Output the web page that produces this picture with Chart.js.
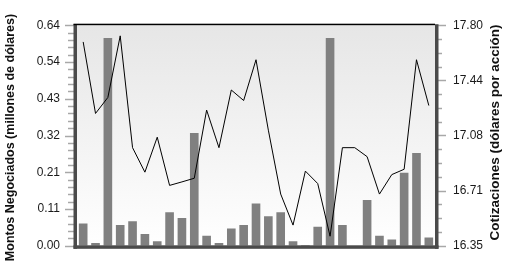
<!DOCTYPE html>
<html><head><meta charset="utf-8">
<script src="https://cdn.jsdelivr.net/npm/chart.js@4"></script>
<style>html,body{margin:0;padding:0;background:#fff;overflow:hidden}#wrap{width:514px;height:271px}</style>
</head><body><div id="wrap"><canvas id="c" width="514" height="271"></canvas></div>
<script>
const categories = ['1','2','3','4','5','6','7','8','9','10','11','12','13','14','15','16','17','18','19','20','21','22','23','24','25','26','27','28','29'];
const montos = [0.065,0.008,0.603,0.060,0.071,0.034,0.013,0.097,0.081,0.327,0.029,0.008,0.050,0.060,0.123,0.086,0.097,0.013,0.002,0.055,0.603,0.060,0.000,0.133,0.029,0.018,0.212,0.269,0.024];
const cotizaciones = [17.69,17.22,17.325,17.73,16.995,16.834,17.064,16.747,16.77,16.794,17.242,16.995,17.374,17.305,17.573,17.11,16.69,16.486,16.841,16.759,16.413,16.995,16.995,16.936,16.69,16.818,16.853,17.573,17.272];
const leftTickValues = [0, 0.10667, 0.21333, 0.32, 0.42667, 0.53333, 0.64];
const leftTickLabels = ['0.00','0.11','0.21','0.32','0.43','0.54','0.64'];
const rightTickValues = [16.35, 16.7125, 17.075, 17.4375, 17.80];
const rightTickLabels = ['16.35','16.71','17.08','17.44','17.80'];
const leftTitle = 'Montos Negociados (millones de dólares)';
const rightTitle = 'Cotizaciones (dólares por acción)';

const FONT = '"Liberation Sans", Arial, sans-serif';

const framePlugin = {
  id: 'frame',
  beforeDatasetsDraw(chart) {
    const {ctx, chartArea: a} = chart;
    ctx.save();
    const g = ctx.createLinearGradient(0, a.top, 0, a.bottom);
    g.addColorStop(0, '#e6e6e6');
    g.addColorStop(1, '#ffffff');
    ctx.fillStyle = g;
    ctx.fillRect(a.left, a.top, a.right - a.left, a.bottom - a.top);
    ctx.restore();
  },
  afterDraw(chart) {
    const {ctx, chartArea: a} = chart;
    const yL = chart.scales.y, yR = chart.scales.y1;
    ctx.save();
    ctx.strokeStyle = '#a8a8a8';
    ctx.lineWidth = 1.5;
    const nL = 30, nR = 16;
    for (let i = 0; i <= nL; i++) {
      const v = yL.min + (yL.max - yL.min) * i / nL;
      const py = Math.round(yL.getPixelForValue(v)) + 0.5;
      const major = i % 5 === 0;
      ctx.beginPath();
      ctx.moveTo(major ? a.left - 12 : a.left - 9, py);
      ctx.lineTo(a.left - 3, py);
      ctx.stroke();
    }
    for (let i = 0; i <= nR; i++) {
      const v = yR.min + (yR.max - yR.min) * i / nR;
      const py = Math.round(yR.getPixelForValue(v)) + 0.5;
      const major = i % 4 === 0;
      ctx.beginPath();
      ctx.moveTo(a.right + 3, py);
      ctx.lineTo(major ? a.right + 11 : a.right + 7, py);
      ctx.stroke();
    }
    ctx.fillStyle = '#4a4a4a';
    ctx.fillRect(a.left - 3.5, a.top - 1, 3.5, a.bottom - a.top + 4);
    ctx.fillRect(a.right, a.top - 1, 3.5, a.bottom - a.top + 4);
    ctx.fillRect(a.left - 3.5, a.bottom - 0.5, a.right - a.left + 7, 3.5);
    ctx.fillStyle = '#000';
    ctx.fillRect(a.left - 3.5, a.top - 1.5, a.right - a.left + 3.5, 1.5);
    ctx.fillStyle = '#111';
    ctx.textAlign = 'center';
    ctx.textBaseline = 'middle';
    const cy = (a.top + a.bottom) / 2;
    ctx.save();
    ctx.font = 'bold 12.5px ' + FONT;
    ctx.translate(11, cy + 2);
    ctx.rotate(-Math.PI / 2);
    ctx.fillText(leftTitle, 0, 0);
    ctx.restore();
    ctx.save();
    ctx.font = 'bold 13.5px ' + FONT;
    ctx.translate(495, cy - 3);
    ctx.rotate(-Math.PI / 2);
    ctx.fillText(rightTitle, 0, 0);
    ctx.restore();
    ctx.restore();
  }
};

new Chart(document.getElementById('c'), {
  data: {
    labels: categories,
    datasets: [
      {type: 'line', data: cotizaciones, yAxisID: 'y1', borderColor: '#000', borderWidth: 1, pointRadius: 0, tension: 0, fill: false, order: 0},
      {type: 'bar', data: montos, yAxisID: 'y', backgroundColor: '#808080', barPercentage: 0.7, categoryPercentage: 1, order: 1}
    ]
  },
  options: {
    responsive: false, animation: false, devicePixelRatio: 1,
    layout: {padding: {top: 14, bottom: 12, left: 0, right: 0}},
    plugins: {legend: {display: false}, tooltip: {enabled: false}, title: {display: false}},
    scales: {
      x: {type: 'category', display: false, offset: true},
      y: {
        position: 'left', min: 0, max: 0.64,
        afterBuildTicks: s => { s.ticks = leftTickValues.map(v => ({value: v})); },
        afterFit: s => { s.width = 77; },
        ticks: {callback: (v, i) => leftTickLabels[i], padding: 17, color: '#1a1a1a', font: {family: FONT, size: 12}},
        grid: {display: false, drawTicks: false},
        border: {display: false}
      },
      y1: {
        position: 'right', min: 16.35, max: 17.80,
        afterBuildTicks: s => { s.ticks = rightTickValues.map(v => ({value: v})); },
        afterFit: s => { s.width = 79; },
        ticks: {callback: (v, i) => rightTickLabels[i], padding: 18, color: '#1a1a1a', font: {family: FONT, size: 12}},
        grid: {display: false, drawTicks: false},
        border: {display: false}
      }
    }
  },
  plugins: [framePlugin]
});
</script></body></html>
